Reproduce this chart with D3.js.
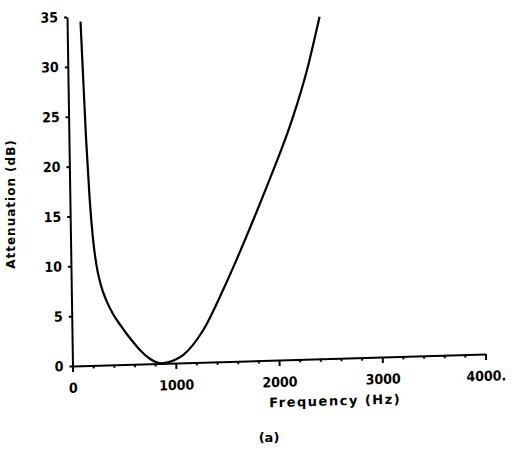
<!DOCTYPE html>
<html>
<head>
<meta charset="utf-8">
<script src="https://cdn.jsdelivr.net/npm/d3@7"></script>
<style>
  body { margin: 0; background: #fff; }
  svg { display: block; }
  .axis path, .axis line { stroke: #000; stroke-width: 2; }
  .axis text { font-family: "DejaVu Sans Condensed", "DejaVu Sans", sans-serif; font-weight: bold; font-size: 14px; fill: #000; }
  .title { font-family: "DejaVu Sans", sans-serif; font-weight: bold; fill: #000; }
</style>
</head>
<body>
<div id="chart"></div>
<script>
// attenuation curve
var freq = [130, 165, 190, 215, 245, 285, 340, 400, 470, 530, 600, 655, 750, 815, 860, 910, 1000, 1075, 1270, 1470, 1640, 1805, 1940, 2175, 2310, 2445];
var atten = [34.5, 23.0, 17.0, 13.0, 10.2, 8.1, 6.4, 5.1, 3.95, 3.05, 2.1, 1.4, 0.5, 0.12, 0, 0.06, 0.35, 0.8, 3.2, 7.2, 11.0, 14.9, 18.2, 24.4, 28.8, 34.3];

var xMajor = [0, 1000, 2000, 3000, 4000];
var xLabels = ['0', '1000', '2000', '3000', '4000.'];
var xMinor = [200, 400, 600, 800, 1200, 1400, 1600, 1800, 2200, 2400, 2600, 2800, 3200, 3400, 3600, 3800];
var yTicks = [0, 5, 10, 15, 20, 25, 30, 35];

var w = 514, h = 450;
var pw = 413, ph = 349;

var svg = d3.select('#chart').append('svg')
    .attr('width', w)
    .attr('height', h);

// the scanned figure is a little skewed, so the plot frame is too
var plot = svg.append('g')
    .attr('transform', 'matrix(1,-0.029,0.0158,1,67,17)');

var x = d3.scaleLinear().domain([0, 4000]).range([0, pw]);
var y = d3.scaleLinear().domain([0, 35]).range([ph, 0]);

// minor x ticks
plot.append('g')
    .attr('class', 'axis')
    .attr('transform', 'translate(0,' + ph + ')')
    .call(d3.axisBottom(x).tickValues(xMinor).tickSize(3).tickFormat(''))
    .select('.domain').remove();

plot.append('g')
    .attr('class', 'axis')
    .attr('transform', 'translate(0,' + ph + ')')
    .call(d3.axisBottom(x)
      .tickValues(xMajor)
      .tickSizeInner(6)
      .tickSizeOuter(0)
      .tickPadding(11)
      .tickFormat(function (d, i) { return xLabels[i]; }));

plot.append('g')
    .attr('class', 'axis')
    .call(d3.axisLeft(y)
      .tickValues(yTicks)
      .tickSizeInner(3)
      .tickSizeOuter(0)
      .tickPadding(6));

var line = d3.line()
    .x(function (d, i) { return x(freq[i]); })
    .y(function (d) { return y(d); })
    .curve(d3.curveMonotoneX);

plot.append('path')
    .datum(atten)
    .attr('fill', 'none')
    .attr('stroke', '#000')
    .attr('stroke-width', 2.2)
    .attr('stroke-linejoin', 'round')
    .attr('d', line);

plot.append('text')
    .attr('class', 'title')
    .attr('x', 262)
    .attr('y', ph + 47)
    .attr('text-anchor', 'middle')
    .style('font-size', '13px')
    .style('letter-spacing', '1.5px')
    .text('Frequency (Hz)');

svg.append('text')
    .attr('class', 'title')
    .attr('transform', 'translate(15,204) rotate(-90)')
    .attr('text-anchor', 'middle')
    .style('font-size', '12px')
    .style('letter-spacing', '1px')
    .text('Attenuation (dB)');

svg.append('text')
    .attr('class', 'title')
    .attr('x', 269)
    .attr('y', 442)
    .attr('text-anchor', 'middle')
    .style('font-size', '13px')
    .text('(a)');
</script>
</body>
</html>
